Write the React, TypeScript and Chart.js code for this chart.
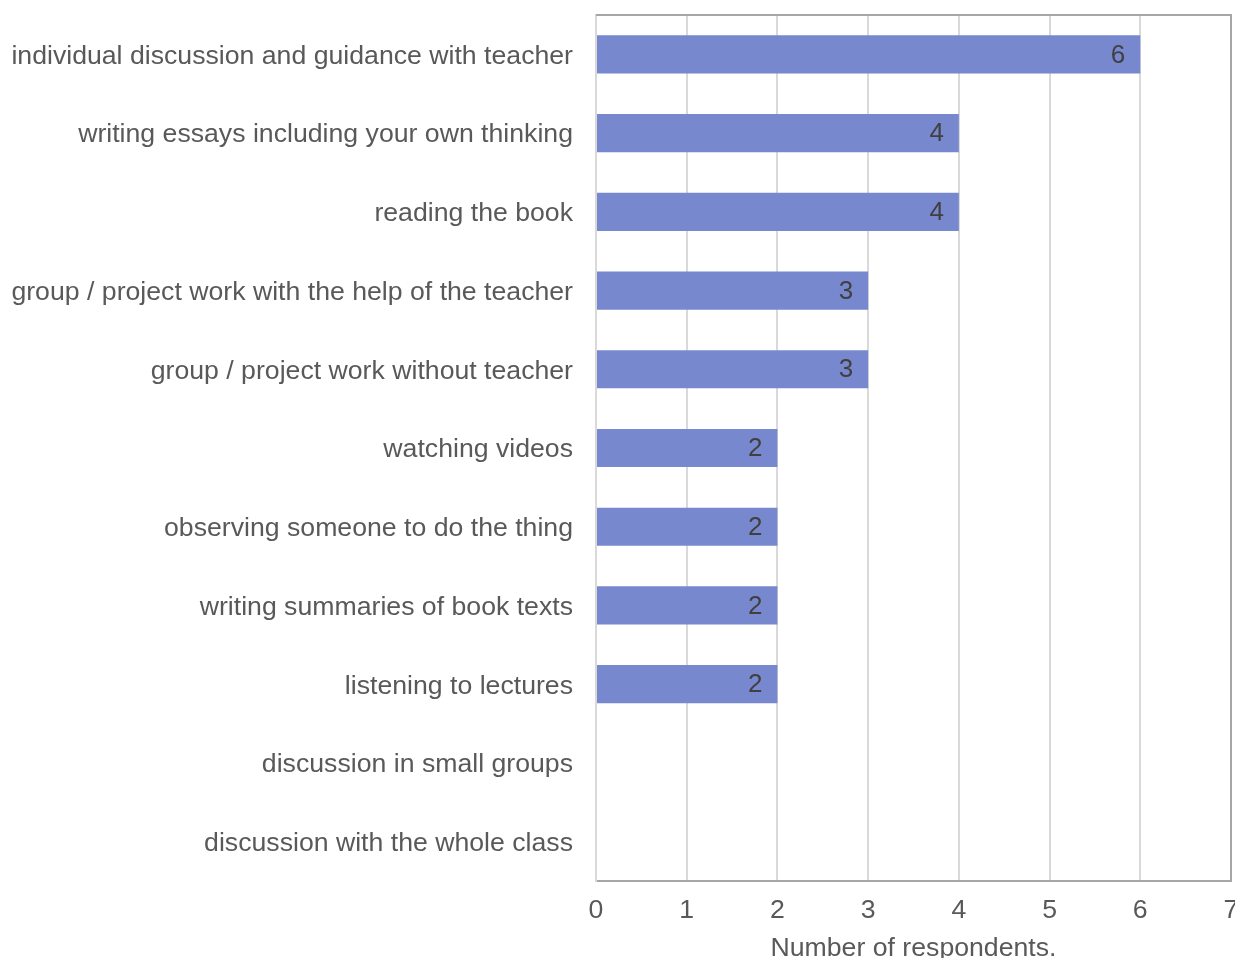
import React, { useEffect, useRef } from "react";
import { Chart, registerables } from "chart.js";

Chart.register(...registerables);

const categories = [
  "individual discussion and guidance with teacher",
  "writing essays including your own thinking",
  "reading the book",
  "group / project work with the help of the teacher",
  "group / project work without teacher",
  "watching videos",
  "observing someone to do the thing",
  "writing summaries of book texts",
  "listening to lectures",
  "discussion in small groups",
  "discussion with the whole class",
];

const respondents = [6, 4, 4, 3, 3, 2, 2, 2, 2, 0, 0];

const xAxisTitle = "Number of respondents.";

const FONT = '"Liberation Sans", Arial, Helvetica, sans-serif';

const valueLabelPlugin = {
  id: "valueLabels",
  afterDatasetsDraw(chart: any) {
    const ctx = chart.ctx;
    const meta = chart.getDatasetMeta(0);
    const data = chart.data.datasets[0].data as number[];
    ctx.save();
    ctx.font = `26px ${FONT}`;
    ctx.fillStyle = "#404040";
    ctx.textAlign = "right";
    ctx.textBaseline = "middle";
    meta.data.forEach((bar: any, i: number) => {
      const v = data[i];
      if (!v) return;
      ctx.fillText(String(v), bar.x - 15, bar.y + 1);
    });
    ctx.restore();
  },
};

const frameBorderPlugin = {
  id: "frameBorder",
  afterDraw(chart: any) {
    const { ctx, chartArea } = chart;
    ctx.save();
    ctx.strokeStyle = "#a6a6a6";
    ctx.lineWidth = 2;
    ctx.beginPath();
    ctx.moveTo(chartArea.left, chartArea.top);
    ctx.lineTo(chartArea.right, chartArea.top);
    ctx.lineTo(chartArea.right, chartArea.bottom);
    ctx.stroke();
    ctx.restore();
  },
};

export default function App() {
  const ref = useRef<HTMLCanvasElement>(null);

  useEffect(() => {
    if (!ref.current) return;
    const chart = new Chart(ref.current, {
      type: "bar",
      data: {
        labels: categories,
        datasets: [
          {
            data: respondents,
            backgroundColor: "#7888ce",
            borderWidth: 0,
            barPercentage: 0.485,
            categoryPercentage: 1,
          },
        ],
      },
      options: {
        indexAxis: "y",
        animation: false,
        responsive: false,
        maintainAspectRatio: false,
        layout: { padding: { left: 10, top: 15, right: 14, bottom: 0 } },
        plugins: {
          legend: { display: false },
          tooltip: { enabled: false },
        },
        scales: {
          x: {
            min: 0,
            max: 7,
            afterFit(scale: any) {
              scale.height = 84;
              scale.paddingLeft = 0;
              scale.paddingRight = 0;
            },
            ticks: {
              stepSize: 1,
              color: "#595959",
              padding: 14,
              font: { family: FONT, size: 26.67 },
            },
            grid: { color: "#d9d9d9", lineWidth: 2, drawTicks: false },
            border: { display: true, color: "#a6a6a6", width: 2 },
            title: {
              display: true,
              text: xAxisTitle,
              color: "#595959",
              padding: { top: 8, bottom: 0 },
              font: { family: FONT, size: 26.67 },
            },
          },
          y: {
            afterFit(scale: any) {
              scale.width = 586;
              scale.paddingTop = 0;
              scale.paddingBottom = 0;
            },
            ticks: {
              color: "#595959",
              padding: 23,
              labelOffset: 2,
              font: { family: FONT, size: 26.67 },
            },
            grid: { display: false, drawTicks: false },
            border: { display: true, color: "#d9d9d9", width: 2 },
          },
        },
      },
      plugins: [valueLabelPlugin, frameBorderPlugin],
    });
    return () => chart.destroy();
  }, []);

  return (
    <div style={{ position: "fixed", left: 0, top: 0, width: 1245, height: 965, background: "#fff" }}>
      <canvas ref={ref} width={1245} height={965} style={{ width: 1245, height: 965, display: "block" }} />
    </div>
  );
}
